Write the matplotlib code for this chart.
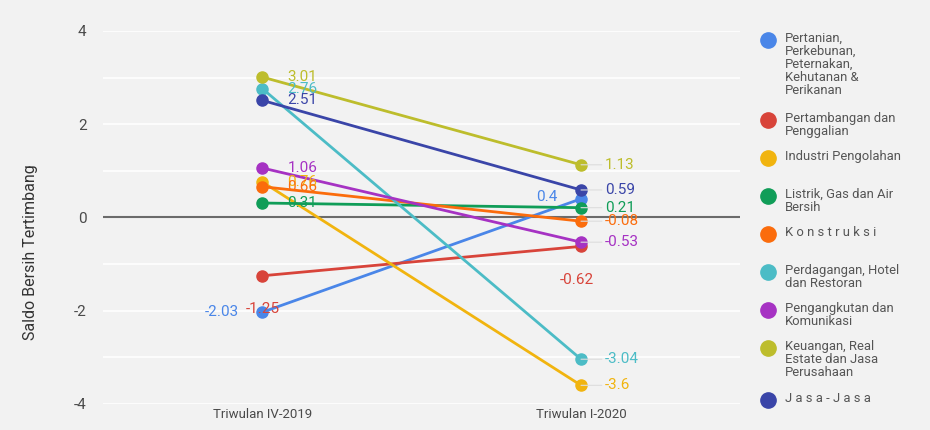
import matplotlib.pyplot as plt
import matplotlib as mpl

mpl.rcParams['font.family'] = ['Roboto', 'DejaVu Sans']
mpl.rcParams['axes.unicode_minus'] = False

# data
periods = ['Triwulan IV-2019', 'Triwulan I-2020']
sectors = ['Pertanian,\nPerkebunan,\nPeternakan,\nKehutanan &\nPerikanan',
           'Pertambangan dan\nPenggalian',
           'Industri Pengolahan',
           'Listrik, Gas dan Air\nBersih',
           'K o n s t r u k s i',
           'Perdagangan, Hotel\ndan Restoran',
           'Pengangkutan dan\nKomunikasi',
           'Keuangan, Real\nEstate dan Jasa\nPerusahaan',
           'J a s a - J a s a']
q4_2019 = [-2.03, -1.25, 0.76, 0.31, 0.66, 2.76, 1.06, 3.01, 2.51]
q1_2020 = [0.4, -0.62, -3.6, 0.21, -0.08, -3.04, -0.53, 1.13, 0.59]
colors = ['#4a86e8', '#d8443a', '#f1b40f', '#109d58', '#fb6c0c',
          '#4cbcc6', '#a632c3', '#bdbd2c', '#3a45a8']

# label placement (offset in points, horizontal alignment)
lab0 = {0: (-17, 0, 'right'), 1: (0, -24, 'center')}
lab1 = {0: (-17, 1, 'right'), 1: (-3, -24, 'center')}

bg = '#f2f2f2'
fig = plt.figure(figsize=(9.3, 4.3), dpi=100, facecolor=bg)
ax = fig.add_axes([0.111, 0.0605, 0.685, 0.8675], facecolor=bg)

x = [0, 1]
for i in range(len(sectors)):
    ax.plot(x, [q4_2019[i], q1_2020[i]], color=colors[i], lw=2,
            marker='o', ms=8, zorder=3 + i * 0.1, clip_on=False)

for i in range(len(sectors)):
    c = colors[i]
    # left labels
    dx, dy, ha = lab0.get(i, (18, 0, 'left'))
    ax.annotate(f'{q4_2019[i]:g}', (0, q4_2019[i]), xytext=(dx, dy),
                textcoords='offset points', ha=ha, va='center',
                fontsize=11, color=c, zorder=4 + i * 0.1)
    # right labels
    if i in lab1:
        dx, dy, ha = lab1[i]
        ax.annotate(f'{q1_2020[i]:g}', (1, q1_2020[i]), xytext=(dx, dy),
                    textcoords='offset points', ha=ha, va='center',
                    fontsize=11, color=c, zorder=4 + i * 0.1)
    else:
        ax.annotate(f'{q1_2020[i]:g}', (1, q1_2020[i]), xytext=(17, 0),
                    textcoords='offset points', ha='left', va='center',
                    fontsize=11, color=c, zorder=4 + i * 0.1,
                    arrowprops=dict(arrowstyle='-', color='#dddddd', lw=0.8,
                                    shrinkA=0, shrinkB=0))

ax.set_xlim(-0.5, 1.5)
ax.set_ylim(-4, 4)
ax.set_yticks([-4, -2, 0, 2, 4])
ax.set_yticks([-3, -1, 1, 3], minor=True)
ax.set_xticks(x)
ax.set_xticklabels(periods)
ax.grid(True, axis='y', which='both', color='white', lw=1.2)
ax.grid(False, axis='x')
ax.axhline(0, color='#6b6b6b', lw=1.5, zorder=2)
ax.set_axisbelow(True)
for s in ax.spines.values():
    s.set_visible(False)
ax.tick_params(axis='both', which='both', length=0, colors='#4a4a4a',
               labelsize=11)
ax.tick_params(axis='y', pad=12)
ax.tick_params(axis='x', pad=3)
for t in ax.get_xticklabels():
    t.set_fontsize(9.5)

fig.text(30 / 930, 1 - 252 / 430, 'Saldo Bersih Tertimbang', rotation=90,
         ha='center', va='center', fontsize=11.5, color='#333333')

# legend
ypx = 40
for i in range(len(sectors)):
    n = sectors[i].count('\n') + 1
    fig.lines.append(mpl.lines.Line2D([768 / 930], [1 - ypx / 430], marker='o',
                                      ms=11, color=colors[i], ls='none',
                                      transform=fig.transFigure))
    fig.text(785 / 930, 1 - (ypx - 8) / 430, sectors[i], ha='left', va='top',
             fontsize=9.4, color='#555555', linespacing=1.0)
    ypx += max(n, 2) * 14 + 10

fig.savefig('out.png', dpi=100, facecolor=bg)
